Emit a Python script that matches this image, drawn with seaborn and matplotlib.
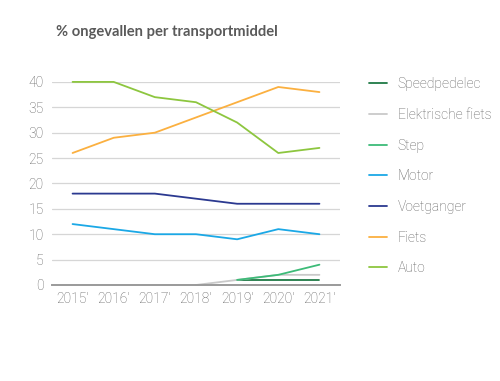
"""
Line chart: % ongevallen per transportmiddel, 2015-2021.
"""

import numpy as np
import pandas as pd
import matplotlib.pyplot as plt
import seaborn as sns

years = ["2015'", "2016'", "2017'", "2018'", "2019'", "2020'", "2021'"]
nan = np.nan

speedpedelec = [nan, nan, nan, nan, 1, 1, 1]
elektrische_fiets = [nan, nan, nan, 0, 1, 2, 2]
step = [nan, nan, nan, nan, 1, 2, 4]
motor = [12, 11, 10, 10, 9, 11, 10]
voetganger = [18, 18, 18, 17, 16, 16, 16]
fiets = [26, 29, 30, 33, 36, 39, 38]
auto = [40, 40, 37, 36, 32, 26, 27]

series_names = ["Speedpedelec", "Elektrische fiets", "Step", "Motor",
                "Voetganger", "Fiets", "Auto"]
series_values = [speedpedelec, elektrische_fiets, step, motor,
                 voetganger, fiets, auto]
colors = ["#1f7a45", "#c9c9c9", "#3dbb78", "#1ba8e6",
          "#2b3990", "#fbb040", "#8dc63f"]

rows = []
for name, vals in zip(series_names, series_values):
    for i, v in enumerate(vals):
        rows.append({"pos": i, "value": v, "serie": name})
df = pd.DataFrame(rows).dropna()

sns.set_style("white")
plt.rcParams['font.family'] = ['Roboto', 'DejaVu Sans']

fig = plt.figure(figsize=(5, 3.81), dpi=100)
ax = fig.add_axes([0.104, 0.252, 0.576, 0.533])

for name, col in zip(series_names, colors):
    sub = df[df["serie"] == name]
    sns.lineplot(data=sub, x="pos", y="value", ax=ax, color=col,
                 linewidth=1.3, label=name, clip_on=False)

ax.set_xlim(-0.5, 6.5)
ax.set_ylim(0, 40)
ax.set_yticks(range(0, 41, 5))
ax.set_xticks(range(len(years)))
ax.set_xticklabels(years)
ax.set_xticks(np.arange(0.5, 6, 1), minor=True)
ax.set_xlabel("")
ax.set_ylabel("")

txt_col = "#5f5f5f"
ax.grid(axis="y", color="#d6d6d6", linewidth=0.9)
ax.set_axisbelow(True)
for s in ["top", "right", "left"]:
    ax.spines[s].set_visible(False)
ax.spines["bottom"].set_color("#9a9a9a")
ax.spines["bottom"].set_linewidth(1.4)

ax.tick_params(axis="x", which="major", length=0, pad=5,
               labelsize=10, labelcolor=txt_col)
ax.tick_params(axis="x", which="minor", direction="in", length=5,
               color="#8a8a8a", width=1.2)
ax.tick_params(axis="y", length=0, pad=6, labelsize=10, labelcolor=txt_col)
for lab in ax.get_xticklabels() + ax.get_yticklabels():
    lab.set_fontweight("light")

handles, labels = ax.get_legend_handles_labels()
leg = ax.legend(handles, labels, loc="upper left",
                bbox_to_anchor=(0.712, 0.83), bbox_transform=fig.transFigure,
                frameon=False, fontsize=10, handlelength=1.35,
                handletextpad=0.75, labelspacing=1.2)
for t in leg.get_texts():
    t.set_color(txt_col)
    t.set_fontweight("light")

fig.text(0.113, 0.917, "% ongevallen per transportmiddel", fontsize=10.6,
         fontweight="bold", color="#5a5a5a", family=["Lato", "DejaVu Sans"],
         va="center")

fig.savefig("out.png", dpi=100)
